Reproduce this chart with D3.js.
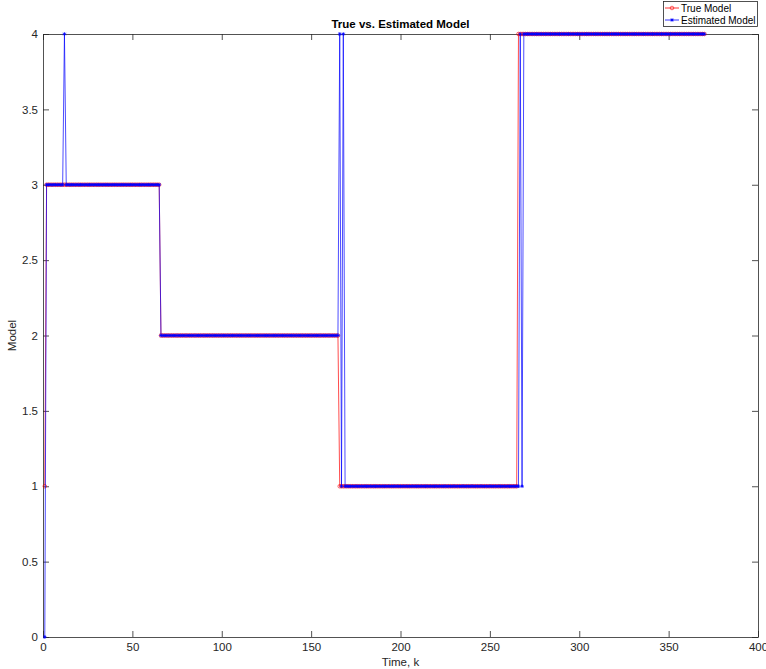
<!DOCTYPE html>
<html>
<head>
<meta charset="utf-8">
<script src="https://cdn.jsdelivr.net/npm/d3@7"></script>
<style>
  html, body { margin: 0; padding: 0; background: #fff; }
  svg { display: block; font-family: "Liberation Sans", Arial, Helvetica, sans-serif; }
</style>
</head>
<body>
<svg id="chart" width="766" height="669"></svg>
<script>
// Model index per time step, stored as runs: [firstK, lastK, model]
const trueModelRuns = [
  [1, 1, 1],
  [2, 65, 3],
  [66, 165, 2],
  [166, 265, 1],
  [266, 370, 4]
];
const estimatedModelRuns = [
  [1, 1, 0],
  [2, 11, 3],
  [12, 12, 4],
  [13, 65, 3],
  [66, 165, 2],
  [166, 166, 4],
  [167, 167, 1],
  [168, 168, 4],
  [169, 266, 1],
  [267, 267, 4],
  [268, 268, 1],
  [269, 370, 4]
];
const xTicks = [0, 50, 100, 150, 200, 250, 300, 350, 400];
const yTicks = [0, 0.5, 1, 1.5, 2, 2.5, 3, 3.5, 4];
const seriesNames = ["True Model", "Estimated Model"];

function expandRuns(runs) {
  const pts = [];
  runs.forEach(([a, b, v]) => { for (let k = a; k <= b; k++) pts.push({ k, v }); });
  return pts;
}
const trueModel = expandRuns(trueModelRuns);
const estimatedModel = expandRuns(estimatedModelRuns);

const svg = d3.select("#chart");
const plotLeft = 43, plotRight = 758, plotTop = 34, plotBottom = 637;
const x = d3.scaleLinear().domain([0, 400]).range([plotLeft, plotRight]);
const y = d3.scaleLinear().domain([0, 4]).range([plotBottom, plotTop]);
const axisColor = "#262626";
const tickLen = 6;
const plain = d => String(d);

// axes box with inward ticks on all four sides
const gx = svg.append("g").attr("transform", `translate(0,${plotBottom})`)
  .call(d3.axisBottom(x).tickValues(xTicks).tickFormat(plain).tickSizeInner(-tickLen).tickSizeOuter(0).tickPadding(6));
const gxTop = svg.append("g").attr("transform", `translate(0,${plotTop})`)
  .call(d3.axisTop(x).tickValues(xTicks).tickSizeInner(-tickLen).tickSizeOuter(0).tickFormat(""));
const gy = svg.append("g").attr("transform", `translate(${plotLeft},0)`)
  .call(d3.axisLeft(y).tickValues(yTicks).tickFormat(plain).tickSizeInner(-tickLen).tickSizeOuter(0).tickPadding(5));
const gyRight = svg.append("g").attr("transform", `translate(${plotRight},0)`)
  .call(d3.axisRight(y).tickValues(yTicks).tickSizeInner(-tickLen).tickSizeOuter(0).tickFormat(""));

[gx, gxTop, gy, gyRight].forEach(g => {
  g.selectAll("path.domain").attr("stroke", axisColor).attr("stroke-width", 0.8);
  g.selectAll(".tick line").attr("stroke", axisColor).attr("stroke-width", 0.8);
  g.selectAll(".tick text").attr("fill", axisColor).attr("font-size", 11.5)
    .attr("font-family", "Liberation Sans, Arial, sans-serif");
});

const line = d3.line().x(d => x(d.k)).y(d => y(d.v));

// True model: red line with circle markers
svg.append("path").datum(trueModel).attr("d", line)
  .attr("fill", "none").attr("stroke", "#ff0000").attr("stroke-width", 0.7);
svg.append("g").selectAll("circle").data(trueModel).join("circle")
  .attr("cx", d => x(d.k)).attr("cy", d => y(d.v)).attr("r", 1.8)
  .attr("fill", "none").attr("stroke", "#ff0000").attr("stroke-width", 0.6);

// Estimated model: blue line with star markers
const star = s => `M${-s},0H${s}M0,${-s}V${s}M${-s * 0.7},${-s * 0.7}L${s * 0.7},${s * 0.7}M${-s * 0.7},${s * 0.7}L${s * 0.7},${-s * 0.7}`;
svg.append("path").datum(estimatedModel).attr("d", line)
  .attr("fill", "none").attr("stroke", "#0000ff").attr("stroke-width", 0.7);
svg.append("g").selectAll("path").data(estimatedModel).join("path")
  .attr("transform", d => `translate(${x(d.k)},${y(d.v)})`)
  .attr("d", star(1.8)).attr("fill", "none").attr("stroke", "#0000ff").attr("stroke-width", 0.8);

// title and axis labels
svg.append("text").attr("x", (plotLeft + plotRight) / 2).attr("y", 28).attr("text-anchor", "middle")
  .attr("font-size", 11.5).attr("font-weight", "bold").attr("fill", "#000").text("True vs. Estimated Model");
svg.append("text").attr("x", (plotLeft + plotRight) / 2).attr("y", 666).attr("text-anchor", "middle")
  .attr("font-size", 11.5).attr("fill", axisColor).text("Time, k");
svg.append("text").attr("transform", `translate(16,${(plotTop + plotBottom) / 2}) rotate(-90)`)
  .attr("text-anchor", "middle").attr("font-size", 11.5).attr("fill", axisColor).text("Model");

// legend
const lg = svg.append("g");
lg.append("rect").attr("x", 663.5).attr("y", 1.5).attr("width", 94).attr("height", 25)
  .attr("fill", "#fff").attr("stroke", axisColor).attr("stroke-width", 0.8);
const colors = ["#ff0000", "#0000ff"];
seriesNames.forEach((name, i) => {
  const yy = 8 + i * 12;
  lg.append("line").attr("x1", 665).attr("x2", 679).attr("y1", yy).attr("y2", yy)
    .attr("stroke", colors[i]).attr("stroke-width", 0.8);
  if (i === 0) {
    lg.append("circle").attr("cx", 672).attr("cy", yy).attr("r", 1.8)
      .attr("fill", "none").attr("stroke", colors[i]).attr("stroke-width", 0.6);
  } else {
    lg.append("path").attr("transform", `translate(672,${yy})`).attr("d", star(1.8))
      .attr("fill", "none").attr("stroke", colors[i]).attr("stroke-width", 0.8);
  }
  lg.append("text").attr("x", 681).attr("y", yy + 3.5).attr("font-size", 10)
    .attr("fill", "#000").text(name);
});
</script>
</body>
</html>
